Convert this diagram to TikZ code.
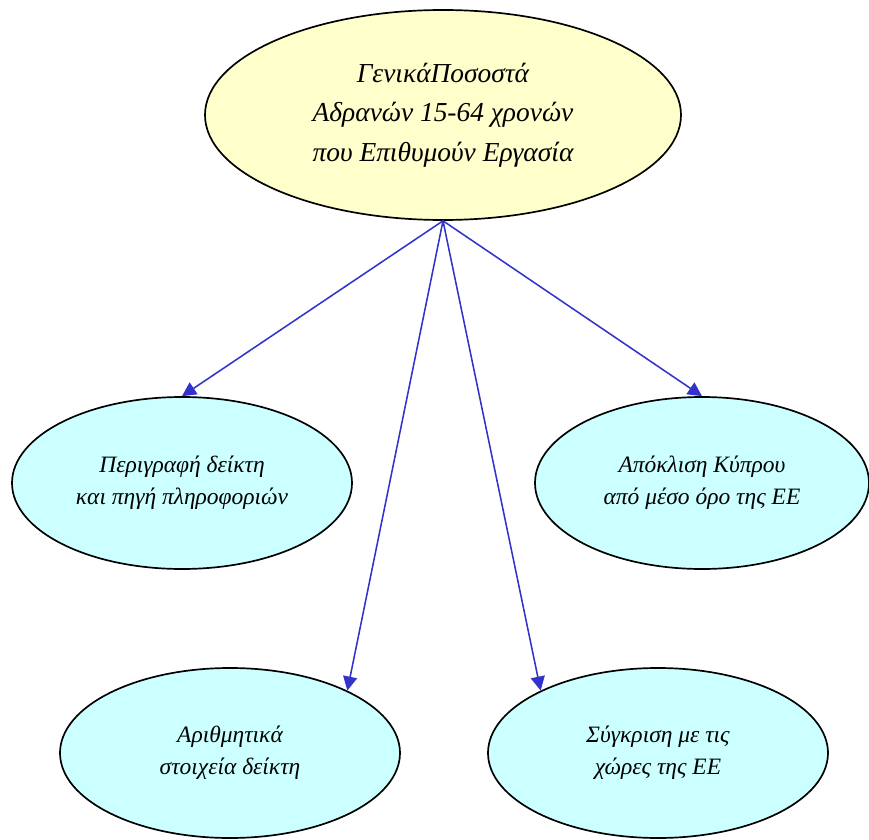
\documentclass[tikz,border=0pt]{standalone}
\usepackage{fontspec}
\setmainfont{Liberation Serif}
\usepackage{tikz}
\usetikzlibrary{arrows.meta,shapes.geometric}
\definecolor{Cream}{HTML}{FFFFCC}
\definecolor{Aqua}{HTML}{CCFFFF}
\definecolor{Indigo}{HTML}{3333CC}
\begin{document}
\begin{tikzpicture}[x=.025cm,y=-.025cm,
    topic/.style={ellipse,draw=black,line width=1.2pt,fill=Cream,align=center,inner sep=0pt,
      font=\fontsize{19.5}{28}\selectfont\itshape},
    leaf/.style={ellipse,draw=black,line width=1.2pt,fill=Aqua,align=center,inner sep=0pt,
      font=\fontsize{16.7}{23}\selectfont\itshape},
    link/.style={-{Triangle[length=10pt,width=10pt]},Indigo,line width=1.1pt}]
        \useasboundingbox (0,0) rectangle (869,840);
        \node[topic,minimum width=476*.025cm,minimum height=210*.025cm] (total) at (443,115)
          {ΓενικάΠοσοστά\\Αδρανών 15-64 χρονών\\που Επιθυμούν Εργασία};
        \node[leaf,minimum width=340*.025cm,minimum height=172*.025cm] (descr) at (182,483)
          {Περιγραφή δείκτη\\και πηγή πληροφοριών};
        \node[leaf,minimum width=334*.025cm,minimum height=172*.025cm] (dev) at (702,483)
          {Απόκλιση Κύπρου\\από μέσο όρο της ΕΕ};
        \node[leaf,minimum width=340*.025cm,minimum height=170*.025cm] (nums) at (230,753)
          {Αριθμητικά\\στοιχεία δείκτη};
        \node[leaf,minimum width=340*.025cm,minimum height=170*.025cm] (comp) at (658,753)
          {Σύγκριση με τις\\χώρες της ΕΕ};
        \draw[link] (total.south) -- (descr.north);
        \draw[link] (total.south) -- (nums.28);
        \draw[link] (total.south) -- (comp.152);
        \draw[link] (total.south) -- (dev.north);
      \end{tikzpicture}
\end{document}
